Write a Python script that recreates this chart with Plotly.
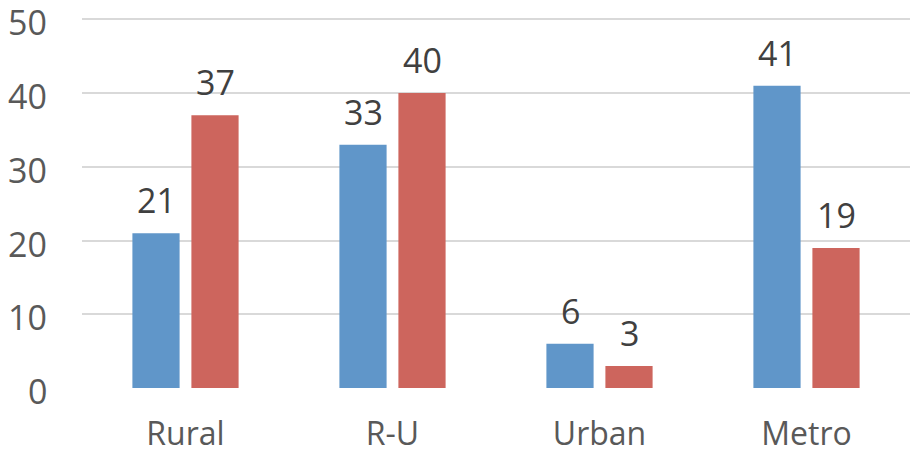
import plotly.graph_objects as go

categories = ["Rural", "R-U", "Urban", "Metro"]
series_a = [21, 33, 6, 41]
series_b = [37, 40, 3, 19]
y_ticks = [0, 10, 20, 30, 40, 50]

blue = "#6096C9"
red = "#CD655D"
txt = "#595959"
font_family = "Open Sans"

fig = go.Figure()
fig.add_trace(go.Bar(x=categories, y=series_a, marker=dict(color=blue, line=dict(width=0)), name="A"))
fig.add_trace(go.Bar(x=categories, y=series_b, marker=dict(color=red, line=dict(width=0)), name="B"))

for vals, shift in ((series_a, -29.5), (series_b, 29.5)):
    for c, v in zip(categories, vals):
        fig.add_annotation(x=c, y=v, xref="x", yref="y", text=str(v), showarrow=False,
                           xshift=shift, yshift=8, yanchor="bottom",
                           font=dict(family=font_family, size=34, color="#404040"))

# y tick labels as annotations (keeps the top "50" from being dropped)
for t in y_ticks:
    fig.add_annotation(x=0, y=t, xref="paper", yref="y", text=str(t), showarrow=False,
                       xanchor="right", yanchor="middle", xshift=-33, yshift=-3,
                       font=dict(family=font_family, size=34, color=txt))

fig.update_layout(
    width=912, height=454,
    margin=dict(l=82, r=2, t=12, b=66),
    paper_bgcolor="white", plot_bgcolor="white",
    barmode="group", bargap=0.43, bargroupgap=0.2,
    showlegend=False,
    font=dict(family=font_family, size=34, color=txt),
)
fig.update_yaxes(range=[0, 51], tickvals=y_ticks, showgrid=True, gridcolor="#D9D9D9", gridwidth=1.5,
                 zeroline=False, showline=False, ticks="", showticklabels=False, automargin=False)
fig.update_xaxes(showgrid=False, showline=False, ticks="", ticklabelstandoff=24, automargin=False,
                 tickfont=dict(family=font_family, size=32, color=txt))

fig.write_html("out.html")
